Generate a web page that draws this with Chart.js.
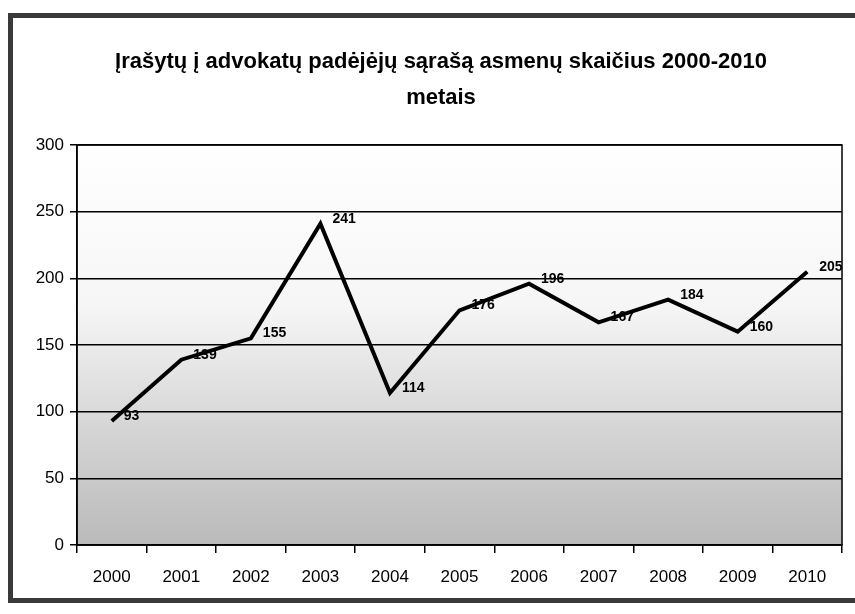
<!DOCTYPE html>
<html><head><meta charset="utf-8">
<script src="https://cdn.jsdelivr.net/npm/chart.js@4/dist/chart.umd.min.js"></script>
<style>html,body{margin:0;padding:0;background:#fff}canvas{display:block}</style>
</head><body>
<div style="width:855px;height:614px"><canvas id="c" width="855" height="614"></canvas></div>
<script>
const titleLines = ["Įrašytų į advokatų padėjėjų sąrašą asmenų skaičius 2000-2010", "metais"];
const years = ["2000","2001","2002","2003","2004","2005","2006","2007","2008","2009","2010"];
const persons = [93, 139, 155, 241, 114, 176, 196, 167, 184, 160, 205];
const yTicks = [0, 50, 100, 150, 200, 250, 300];

const FONT = "'Liberation Sans', Arial, sans-serif";

const framePlugin = {
  id: 'frame',
  beforeDraw(chart) {
    const ctx = chart.ctx, a = chart.chartArea;
    ctx.save();
    ctx.fillStyle = '#fff';
    ctx.fillRect(0, 0, chart.width, chart.height);
    ctx.strokeStyle = '#3a3a3a';
    ctx.lineWidth = 5;
    ctx.strokeRect(10.5, 15.5, 850, 585);
    const g = ctx.createLinearGradient(0, a.top, 0, a.bottom);
    g.addColorStop(0, '#ffffff');
    g.addColorStop(0.4, '#f6f6f6');
    g.addColorStop(0.7, '#d6d6d6');
    g.addColorStop(1, '#bababa');
    ctx.fillStyle = g;
    ctx.fillRect(a.left, a.top, a.right - a.left, a.bottom - a.top);
    // title
    ctx.fillStyle = '#000';
    ctx.font = "bold 22px " + FONT;
    ctx.textAlign = 'center';
    ctx.textBaseline = 'middle';
    titleLines.forEach((t, i) => ctx.fillText(t, 441, 62 + i * 36));
    ctx.restore();
  },
  afterDatasetsDraw(chart) {
    const ctx = chart.ctx, a = chart.chartArea;
    ctx.save();
    ctx.strokeStyle = '#000';
    ctx.lineWidth = 1.5;
    ctx.strokeRect(a.left, a.top, a.right - a.left, a.bottom - a.top);
    const meta = chart.getDatasetMeta(0);
    ctx.fillStyle = '#000';
    ctx.font = "bold 14px " + FONT;
    ctx.textAlign = 'left';
    ctx.textBaseline = 'middle';
    meta.data.forEach((p, i) => {
      ctx.fillText(String(chart.data.datasets[0].data[i]), p.x + 12, p.y - 5);
    });
    ctx.restore();
  }
};

new Chart(document.getElementById('c'), {
  type: 'line',
  data: {
    labels: years,
    datasets: [{
      data: persons,
      borderColor: '#000',
      borderWidth: 4,
      pointRadius: 0,
      tension: 0,
      fill: false
    }]
  },
  options: {
    responsive: false,
    animation: false,
    devicePixelRatio: 1,
    layout: { padding: { left: 0, right: 13, top: 145, bottom: 0 } },
    plugins: {
      legend: { display: false },
      tooltip: { enabled: false },
      title: { display: false }
    },
    scales: {
      x: {
        type: 'category',
        offset: true,
        grid: { display: true, drawOnChartArea: false, drawTicks: true, tickLength: 8, color: '#000', lineWidth: 1.5, offset: true },
        border: { display: true, color: '#000', width: 1.5 },
        ticks: { color: '#000', font: { family: FONT, size: 17 }, padding: 14, maxRotation: 0, autoSkip: false },
        afterFit(s) { s.height = 614 - 545; }
      },
      y: {
        min: 0, max: 300,
        afterBuildTicks(s) { s.ticks = yTicks.map(v => ({ value: v })); },
        grid: { color: '#000', lineWidth: 1.5, drawTicks: true, tickLength: 7 },
        border: { display: true, color: '#000', width: 1.5 },
        ticks: { color: '#000', font: { family: FONT, size: 17 }, padding: 6 },
        afterFit(s) { s.width = 77; }
      }
    }
  },
  plugins: [framePlugin]
});
</script>
</body></html>
